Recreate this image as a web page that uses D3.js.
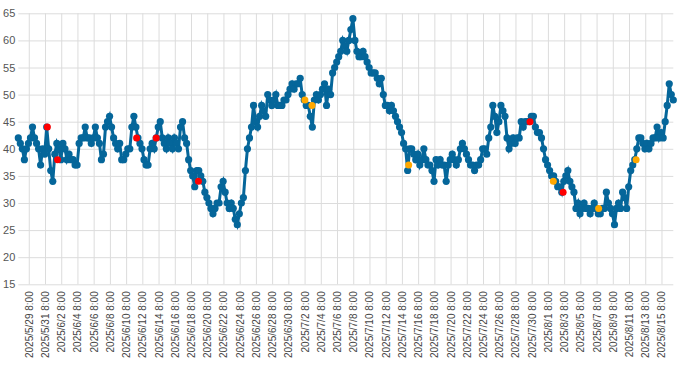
<!DOCTYPE html>
<html><head><meta charset="utf-8">
<script src="https://cdn.jsdelivr.net/npm/d3@7"></script>
<style>body{margin:0;background:#fff}svg{display:block}</style>
</head><body>
<svg id="c" width="700" height="367"></svg>
<script>
const startTime = "2025/5/28 1:00";
const stepHours = 6;
const values = [
42,41,40,38, 40,41,42,44, 42,41,40,37, 40,39,44,40, 36,34,39,41,
40,38,41,40, 38,39,38,38, 37,37,41,42, 42,44,42,42, 41,42,44,42,
41,38,39,44, 45,46,44,42, 41,40,41,38, 38,39,40,40, 44,46,44,42,
41,40,38,37, 37,40,41,40, 42,44,45,42, 41,40,42,41, 40,42,41,40,
44,45,42,41, 38,36,35,33, 36,36,35,34, 32,31,30,29, 28,29,30,30,
33,34,32,30, 29,30,29,27, 26,28,30,31, 36,40,42,44, 48,45,44,46,
48,47,46,50, 49,48,49,50, 48,48,48,49, 49,50,51,52, 51,52,52,53,
50,49,48,48, 46,44,49,50, 49,50,51,52, 48,51,50,54, 55,56,57,58,
60,59,58,60, 62,64,60,58, 57,57,58,57, 56,55,54,54, 54,53,52,53,
50,48,48,47, 48,47,46,45, 44,43,41,40, 36,40,40,39, 38,39,37,38,
40,38,37,37, 36,34,38,37, 38,37,37,34, 37,38,39,38, 37,38,40,41,
40,39,38,37, 37,36,37,37, 38,40,40,39, 42,44,48,46, 43,45,48,47,
46,42,40,41, 42,41,42,42, 45,44,45,45, 45,46,46,44, 43,43,42,40,
38,37,36,35, 35,34,33,33, 32,34,35,36, 34,33,32,29, 30,28,29,30,
29,29,28,29, 30,29,28,28, 29,29,32,30, 29,28,26,29, 30,29,32,31,
29,33,36,37, 38,40,42,42, 41,40,41,40, 41,42,42,44, 42,43,42,45,
48,52,50,49
];
const tickLabels = [
"2025/5/29 8:00","2025/5/31 8:00","2025/6/2 8:00","2025/6/4 8:00","2025/6/6 8:00",
"2025/6/8 8:00","2025/6/10 8:00","2025/6/12 8:00","2025/6/14 8:00","2025/6/16 8:00",
"2025/6/18 8:00","2025/6/20 8:00","2025/6/22 8:00","2025/6/24 8:00","2025/6/26 8:00",
"2025/6/28 8:00","2025/6/30 8:00","2025/7/2 8:00","2025/7/4 8:00","2025/7/6 8:00",
"2025/7/8 8:00","2025/7/10 8:00","2025/7/12 8:00","2025/7/14 8:00","2025/7/16 8:00",
"2025/7/18 8:00","2025/7/20 8:00","2025/7/22 8:00","2025/7/24 8:00","2025/7/26 8:00",
"2025/7/28 8:00","2025/7/30 8:00","2025/8/1 8:00","2025/8/3 8:00","2025/8/5 8:00",
"2025/8/7 8:00","2025/8/9 8:00","2025/8/11 8:00","2025/8/13 8:00","2025/8/15 8:00"
];
const yTicks = [15,20,25,30,35,40,45,50,55,60,65];
const redTimes = ["2025/5/31 15:00","2025/6/1 21:00","2025/6/11 15:00","2025/6/14 1:00","2025/6/19 6:00","2025/7/30 3:00","2025/8/3 5:00"];
const redValues = [44,38,42,42,34,45,32];
const orangeTimes = ["2025/7/2 9:00","2025/7/3 6:00","2025/7/15 4:00","2025/8/2 0:00","2025/8/7 14:00","2025/8/12 5:00"];
const orangeValues = [49,48,37,34,29,38];

const parse = d3.timeParse("%Y/%m/%d %H:%M");
const t0 = parse(startTime);
const data = values.map((v, i) => ({t: d3.timeHour.offset(t0, i * stepHours), v}));
const red = redTimes.map((s, i) => ({t: parse(s), v: redValues[i]}));
const orange = orangeTimes.map((s, i) => ({t: parse(s), v: orangeValues[i]}));

const L = 18.3, R = 673.3, T = 13.3, B = 284.3;
const x = d3.scaleTime().domain([data[0].t, data[data.length - 1].t]).range([L, R]);
const y = d3.scaleLinear().domain([15, 65]).range([B, T]);

const svg = d3.select("#c");
const grid = "#dcdcdc";
const font = "'Liberation Sans', Arial, sans-serif";

const ya = svg.append("g").attr("transform", `translate(${L},0)`)
  .call(d3.axisLeft(y).tickValues(yTicks).tickSize(-(R - L)).tickPadding(3).tickFormat(d3.format("d")));
ya.select(".domain").remove();
ya.selectAll("line").attr("stroke", grid).attr("stroke-width", 1);
ya.selectAll("text").attr("fill", "#555").style("font-family", font).style("font-size", "11px");

const tickDates = tickLabels.map(parse);
const xa = svg.append("g").attr("transform", `translate(0,${B})`)
  .call(d3.axisBottom(x).tickValues(tickDates).tickSize(-(B - T)).tickFormat((d, i) => tickLabels[i]));
xa.select(".domain").remove();
xa.selectAll("line").attr("stroke", grid).attr("stroke-width", 1);
xa.selectAll("text")
  .attr("fill", "#444").style("font-family", font).style("font-size", "10px")
  .attr("text-anchor", "end")
  .attr("transform", "rotate(-90)")
  .attr("x", -7).attr("y", 0).attr("dy", "0.35em");

const blue = "#05669a";
svg.append("path").datum(data)
  .attr("fill", "none").attr("stroke", blue).attr("stroke-width", 3)
  .attr("d", d3.line().x(d => x(d.t)).y(d => y(d.v)));
svg.append("g").selectAll("circle").data(data).join("circle")
  .attr("cx", d => x(d.t)).attr("cy", d => y(d.v)).attr("r", 3.6).attr("fill", blue);

svg.append("g").selectAll("circle").data(red).join("circle")
  .attr("cx", d => x(d.t)).attr("cy", d => y(d.v)).attr("r", 3.5).attr("fill", "#ff0000");
svg.append("g").selectAll("circle").data(orange).join("circle")
  .attr("cx", d => x(d.t)).attr("cy", d => y(d.v)).attr("r", 3.5).attr("fill", "#ffa800");
</script>
</body></html>
